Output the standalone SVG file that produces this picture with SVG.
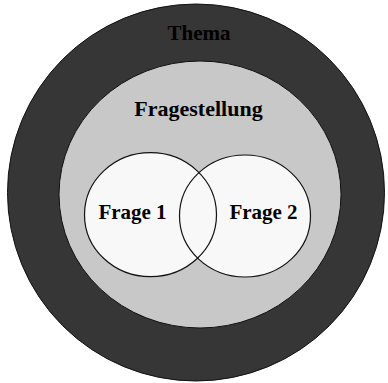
<svg xmlns="http://www.w3.org/2000/svg" width="388" height="383" viewBox="0 0 388 383">
<style>
.lbl{font-family:"Liberation Serif","Times New Roman",serif;font-weight:bold;font-size:21px;fill:#000;text-anchor:middle}
.ring{stroke:#111;stroke-width:1}
.q{fill:#f8f8f8}
</style>
<rect width="388" height="383" fill="#fff"/>
<g id="thema">
<circle class="ring" cx="196" cy="192.5" r="188.5" fill="#363636"/>
<text class="lbl" x="199" y="40">Thema</text>
</g>
<g id="fragestellung">
<ellipse class="ring" cx="200" cy="194.5" rx="141" ry="133.5" fill="#c8c8c8"/>
<text class="lbl" x="198.5" y="116" style="font-size:22px">Fragestellung</text>
</g>
<g id="frage1">
<ellipse class="q" cx="150.5" cy="214.7" rx="66" ry="62"/>
<text class="lbl" x="132.5" y="219">Frage 1</text>
</g>
<g id="frage2">
<ellipse class="q" cx="245" cy="216" rx="65.5" ry="61"/>
<text class="lbl" x="263.5" y="219">Frage 2</text>
</g>
<g id="outlines" fill="none" stroke="#111" stroke-width="1.2">
<ellipse cx="150.5" cy="214.7" rx="66" ry="62"/>
<ellipse cx="245" cy="216" rx="65.5" ry="61"/>
</g>
</svg>
